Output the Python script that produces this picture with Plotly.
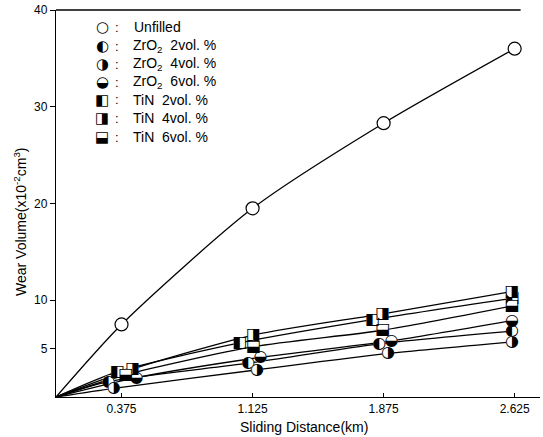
import plotly.graph_objects as go

# ---------------- data ----------------
x_ticks = [0.375, 1.125, 1.875, 2.625]
x_ticktext = ["0.375", "1.125", "1.875", "2.625"]
y_ticks = [5, 10, 20, 30, 40]
y_ticktext = ["5", "10", "20", "30", "40"]

# sliding distance (km) of each plotted point (markers are slightly staggered in the original)
unfilled_x = [0, 0.375, 1.125, 1.875, 2.625]
unfilled   = [0, 7.5, 19.5, 28.3, 36.0]

tin_4_x    = [0, 0.44, 1.13, 1.87, 2.61]
tin_4      = [0, 2.9, 6.4, 8.6, 10.9]
tin_2_x    = [0, 0.35, 1.05, 1.81, 2.61]
tin_2      = [0, 2.6, 5.6, 8.0, 10.2]
tin_6_x    = [0, 0.40, 1.13, 1.87, 2.61]
tin_6      = [0, 2.3, 5.2, 6.9, 9.4]
zro2_6_x   = [0, 0.46, 1.17, 1.92, 2.61]
zro2_6     = [0, 2.0, 4.1, 5.8, 7.9]
zro2_2_x   = [0, 0.30, 1.10, 1.85, 2.61]
zro2_2     = [0, 1.6, 3.5, 5.5, 6.8]
zro2_4_x   = [0, 0.33, 1.15, 1.90, 2.61]
zro2_4     = [0, 0.9, 2.8, 4.5, 5.7]

series_names = ["Unfilled", "ZrO<sub>2</sub>  2vol. %", "ZrO<sub>2</sub>  4vol. %",
                "ZrO<sub>2</sub>  6vol. %", "TiN  2vol. %", "TiN  4vol. %", "TiN  6vol. %"]
series_glyphs = ["○", "◐", "◑", "◒", "◧", "◨", "⬓"]

half_series = [
    (zro2_2_x, zro2_2, "◐"), (zro2_4_x, zro2_4, "◑"), (zro2_6_x, zro2_6, "◒"),
    (tin_2_x, tin_2, "◧"), (tin_4_x, tin_4, "◨"), (tin_6_x, tin_6, "⬓"),
]

FONT = "Liberation Sans, Arial, DejaVu Sans, sans-serif"
GLYPH_FONT = "DejaVu Sans"

fig = go.Figure()

# curves
for xs, vals in [(unfilled_x, unfilled)] + [(sx, sv) for sx, sv, _ in half_series]:
    fig.add_trace(go.Scatter(x=xs, y=vals, mode="lines",
                             line=dict(color="black", width=1.3, shape="spline", smoothing=0.7),
                             hoverinfo="skip", showlegend=False))

# unfilled markers
fig.add_trace(go.Scatter(x=unfilled_x[1:], y=unfilled[1:], mode="markers",
                         marker=dict(symbol="circle", size=13, color="white",
                                     line=dict(color="black", width=1.2)),
                         showlegend=False))

# half-filled markers: white mask + glyph
for xs, vals, g in half_series:
    fig.add_trace(go.Scatter(x=xs[1:], y=vals[1:], mode="markers",
                             marker=dict(symbol="circle", size=12, color="white",
                                         line=dict(width=0)),
                             showlegend=False, hoverinfo="skip"))
    fig.add_trace(go.Scatter(x=xs[1:], y=vals[1:], mode="text",
                             text=[g] * (len(vals) - 1), textposition="middle center",
                             textfont=dict(family=GLYPH_FONT, size=16, color="black"),
                             showlegend=False, hoverinfo="skip"))

# ---------------- layout ----------------
L, R, T, B = 56, 3, 10, 40
W, H = 543, 437
pw, ph = W - L - R, H - T - B

def px_to_paper(px, py):
    return (px - L) / pw, (H - B - py) / ph

annotations = []
legend_y = [27, 46, 64, 82, 100, 118, 137]
for i, (name, g, py) in enumerate(zip(series_names, series_glyphs, legend_y)):
    xs, ys = px_to_paper(102, py)
    annotations.append(dict(x=xs, y=ys, xref="paper", yref="paper", text=g, showarrow=False,
                            xanchor="center", yanchor="middle",
                            font=dict(family=GLYPH_FONT, size=15, color="black")))
    xc, _ = px_to_paper(117, py)
    annotations.append(dict(x=xc, y=ys, xref="paper", yref="paper", text=":", showarrow=False,
                            xanchor="center", yanchor="middle",
                            font=dict(family=FONT, size=13, color="black")))
    if i == 0:
        xt, _ = px_to_paper(157, py)
        anchor = "center"
    else:
        xt, _ = px_to_paper(131, py)
        anchor = "left"
    annotations.append(dict(x=xt, y=ys, xref="paper", yref="paper", text=name, showarrow=False,
                            xanchor=anchor, yanchor="middle", align="left",
                            font=dict(family=FONT, size=14, color="black")))

xa, ya = px_to_paper(20, 222)
annotations.append(dict(x=xa, y=ya, xref="paper", yref="paper",
                        text="Wear Volume(x10<sup>-2</sup>cm<sup>3</sup>)", textangle=-90,
                        showarrow=False, xanchor="center", yanchor="middle",
                        font=dict(family=FONT, size=14, color="black")))
xa, ya = px_to_paper(304, 427)
annotations.append(dict(x=xa, y=ya, xref="paper", yref="paper",
                        text="Sliding Distance(km)", showarrow=False,
                        xanchor="center", yanchor="middle",
                        font=dict(family=FONT, size=14, color="black")))

fig.update_layout(
    width=W, height=H,
    margin=dict(l=L, r=R, t=T, b=B, pad=0),
    paper_bgcolor="white", plot_bgcolor="white",
    showlegend=False,
    font=dict(family=FONT, size=12, color="black"),
    xaxis=dict(range=[0, 2.77], tickvals=x_ticks, ticktext=x_ticktext,
               ticks="inside", ticklen=4, tickcolor="black", showgrid=False, zeroline=False,
               showline=True, linecolor="black", linewidth=1.3,
               tickfont=dict(family=FONT, size=12)),
    yaxis=dict(range=[0, 40], tickvals=y_ticks, ticktext=y_ticktext,
               ticks="outside", ticklen=5, tickcolor="black", showgrid=False, zeroline=False,
               showline=True, linecolor="black", linewidth=1.3,
               tickfont=dict(family=FONT, size=12)),
    annotations=annotations,
    shapes=[dict(type="line", xref="paper", yref="paper", x0=0, x1=0.96, y0=1, y1=1,
                 line=dict(color="black", width=1.3))],
)

fig.write_html("out.html")
